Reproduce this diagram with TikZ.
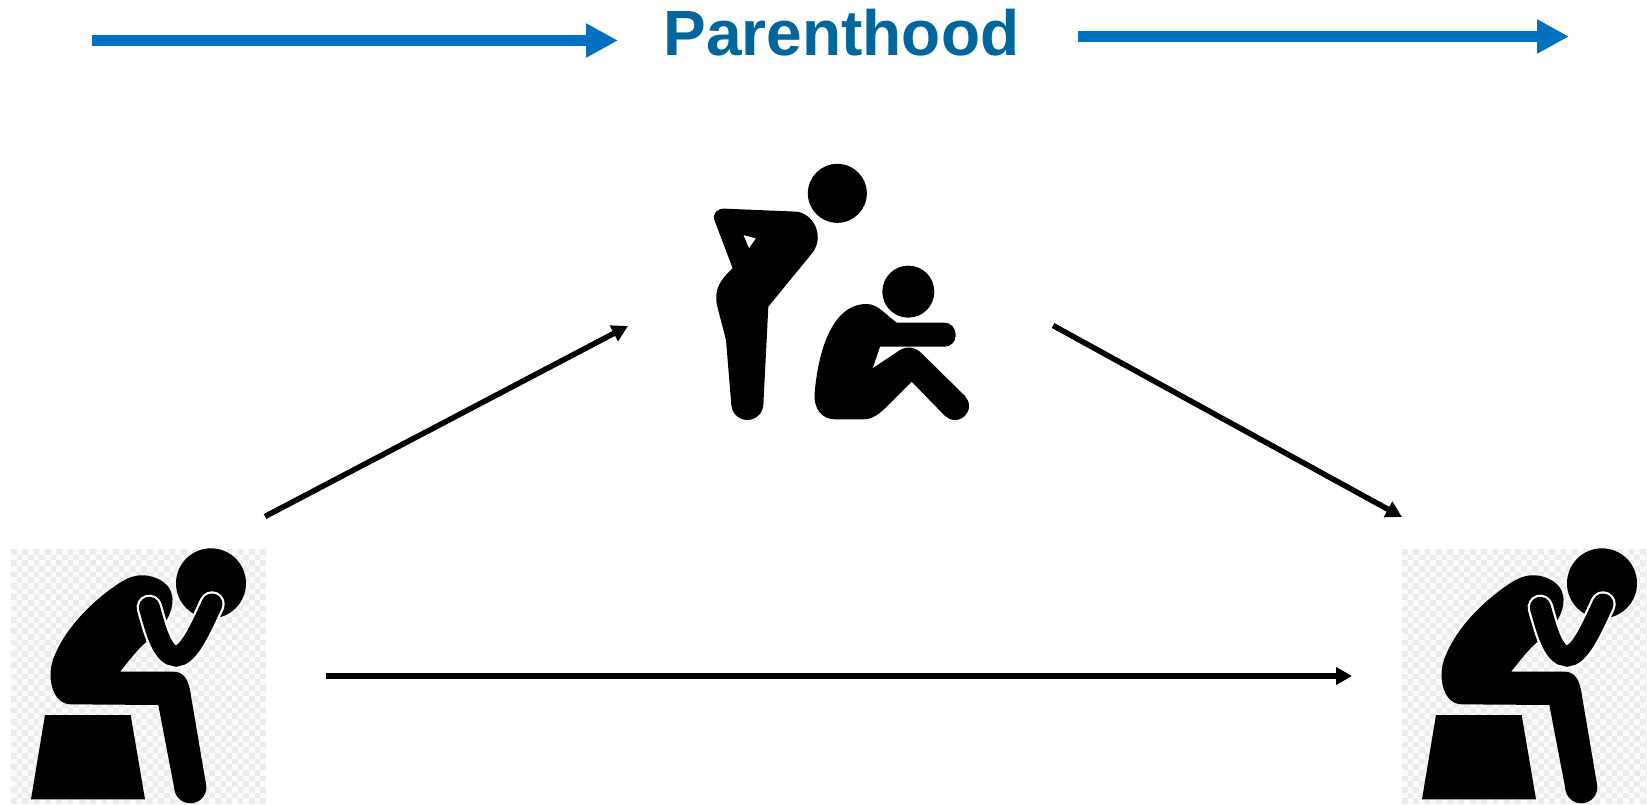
\documentclass[tikz,border=0pt]{standalone}
\usepackage{fontspec}
\setmainfont{Liberation Sans}
\usetikzlibrary{arrows.meta}
\definecolor{bluearrow}{HTML}{0070C0}
\definecolor{titleblue}{HTML}{00669B}
\definecolor{checkgrey}{HTML}{ECECEC}
\definecolor{checkbase}{HTML}{FAFAFA}
\tikzset{
  bluearrow/.style={draw=bluearrow,line width=11pt,-{Triangle[length=32pt,width=32pt]}},
  blackarrow/.style={draw=black,line width=5.5pt,-{Triangle[length=16pt,width=17pt]}},
  pictoscale/.style={x=0.33333pt,y=-0.33333pt},
  armwhite/.style={draw=white,line width=25.5pt,line cap=round},
  armblack/.style={draw=black,line width=21pt,line cap=round},
}
\newcommand{\sadfigure}{%
  \fill[checkbase] (33,57) rectangle (798,822);
  \foreach \r in {0,...,44}{
    \pgfmathsetmacro{\yy}{57+17*\r+8.5}
    \pgfmathsetmacro{\ph}{mod(\r,2)*5.667}
    \draw[checkgrey,line width=5.667pt,dash pattern=on 5.667pt off 5.667pt,dash phase=\ph pt]
      (33,\yy) -- (798,\yy);
  }
  \fill (633,160) circle[radius=35pt];
  \fill (135,555) -- (392,555) -- (435,808) -- (93,808) -- cycle;
  \fill (571,772) circle[radius=16pt];
  \fill (212,523) -- (475,525) -- (524,781) -- (618,763)
    -- (570,480) .. controls (562,440) and (545,425) .. (520,425)
    -- (360,425) .. controls (385,395) and (410,360) .. (440,335)
    -- (430,270) -- (500,270)
    .. controls (525,225) and (530,170) .. (470,145)
    .. controls (435,130) and (400,133) .. (365,155)
    .. controls (275,212) and (190,300) .. (158,392)
    .. controls (140,450) and (160,522) .. (212,523) -- cycle;
  \def\armpath{(448,232) .. controls (465,290) and (485,378) .. (528,378)
    .. controls (565,378) and (600,300) .. (636,222)}
  \draw[armwhite] \armpath;
  \draw[armblack] \armpath;
}
\begin{document}
\begin{tikzpicture}[x=1pt,y=-1pt]
\useasboundingbox (0,0) rectangle (1647,805);
\fill[white] (0,0) rectangle (1647,805);

% pictograms
\begin{scope}
  \clip (0,0) rectangle (1647,805);
  \begin{scope}[shift={(0,530)},pictoscale]
    \sadfigure
  \end{scope}
  \begin{scope}[shift={(1391,530)},pictoscale]
    \sadfigure
  \end{scope}
\end{scope}

\begin{scope}[shift={(690,150)},pictoscale]
  \fill (442,130) circle[radius=29.5pt];
  \fill (655,425) circle[radius=26pt];
  % standing adult
  \fill (172,762) circle[radius=16pt];
  \fill[even odd rule]
    (105,176) -- (320,185) .. controls (365,190) and (405,250) .. (370,305)
    -- (235,470) -- (220,765) -- (124,765)
    -- (108,570) -- (82,470) .. controls (70,420) and (90,390) .. (128,355)
    -- (75,215) .. controls (64,190) and (82,175) .. (105,176) -- cycle
    (160,255) -- (198,265) -- (177,295) -- cycle;
  % sitting child
  \fill (795,768) circle[radius=14pt];
  \fill (530,462) .. controls (565,462) and (590,497) .. (620,518)
    -- (760,518) .. controls (785,518) and (797,535) .. (797,555)
    .. controls (797,575) and (785,590) .. (760,590)
    -- (570,590) -- (548,655) -- (630,600)
    .. controls (650,588) and (675,590) .. (695,610)
    -- (825,738) -- (765,798)
    -- (665,695) -- (590,770) .. controls (565,795) and (545,808) .. (520,808)
    -- (435,808) .. controls (395,808) and (370,775) .. (374,730)
    .. controls (380,650) and (410,462) .. (530,462) -- cycle;
\end{scope}

% title
\node[anchor=base,inner sep=0pt,text=titleblue,font=\bfseries\fontsize{64}{64}\selectfont] (title) at (841.5,55.7) {Parenthood};

% connectors
\coordinate (b1s) at (92,40.5);
\coordinate (b1e) at (618,40.5);
\coordinate (b2s) at (1078,36.5);
\coordinate (b2e) at (1569,36.5);
\draw[bluearrow] (b1s) -- (b1e);
\draw[bluearrow] (b2s) -- (b2e);

\coordinate (a1s) at (265,516.5);
\coordinate (a1e) at (628,326);
\coordinate (a2s) at (1053,325.5);
\coordinate (a2e) at (1402,517);
\coordinate (a3s) at (326,676);
\coordinate (a3e) at (1352,676);
\draw[blackarrow] (a1s) -- (a1e);
\draw[blackarrow] (a2s) -- (a2e);
\draw[blackarrow] (a3s) -- (a3e);
\end{tikzpicture}
\end{document}
